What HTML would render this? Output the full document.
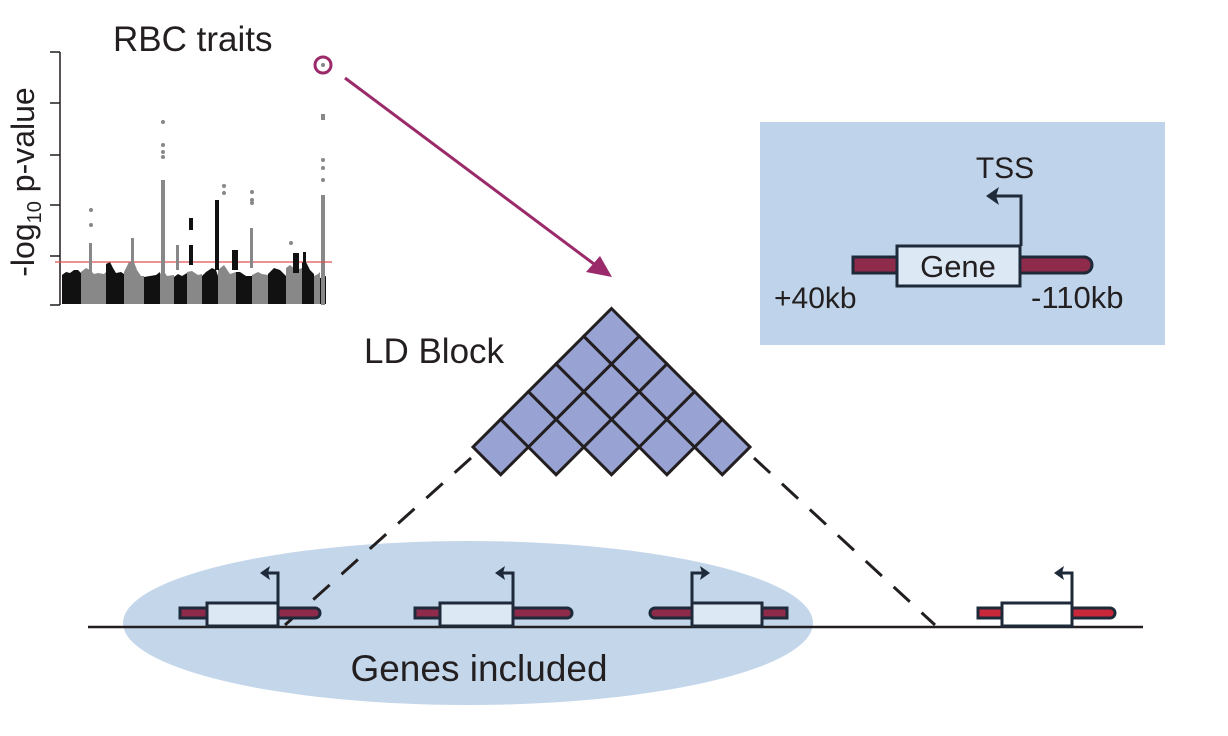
<!DOCTYPE html>
<html><head><meta charset="utf-8"><style>
html,body{margin:0;padding:0;background:#fff;}
svg{display:block;}
text{font-family:"Liberation Sans",sans-serif;fill:#231f20;}
</style></head><body>
<svg width="1228" height="736" viewBox="0 0 1228 736" xmlns="http://www.w3.org/2000/svg">
<!-- Manhattan plot -->
<text x="113" y="51" font-size="35">RBC traits</text>
<text transform="translate(34,182) rotate(-90)" font-size="32" text-anchor="middle">-log<tspan font-size="20" dy="7">10</tspan><tspan dy="-7"> p-value</tspan></text>
<g stroke="#231f20" stroke-width="1.5" fill="none">
<path d="M60,52 V305"/>
<path d="M50,52 H60 M50,103 H60 M50,155 H60 M50,205 H60 M50,256 H60 M50,305 H60"/>
</g>
<g>
<path fill="#111" d="M62,304 V275 L66,272 L70,273 L74,270 L78,270 L81,273 V304Z"/>
<path fill="#888" d="M81,304 V272 L86,268 L90,270 L94,274 L98,273 L104,274 L106,272 V304Z"/>
<path fill="#111" d="M106,304 V264 L110,262 L113,268 L116,273 L121,272 L124,274 V304Z"/>
<path fill="#888" d="M124,304 V272 L129,262 L134,262 L137,270 L141,276 L144,276 V304Z"/>
<path fill="#111" d="M144,304 V277 L150,276 L156,275 L160,272 V304Z"/>
<path fill="#888" d="M160,304 V274 L163,270 L167,276 L174,275 V304Z"/>
<path fill="#111" d="M174,304 V277 L178,274 L182,276 L187,273 V304Z"/>
<path fill="#888" d="M187,304 V272 L192,271 L198,275 L202,274 V304Z"/>
<path fill="#111" d="M202,304 V276 L206,272 L212,268 L216,270 L218,276 V304Z"/>
<path fill="#888" d="M218,304 V270 L224,265 L230,274 L236,272 V304Z"/>
<path fill="#111" d="M236,304 V272 L240,272 L246,276 L252,276 V304Z"/>
<path fill="#888" d="M252,304 V275 L258,272 L262,274 L268,275 V304Z"/>
<path fill="#111" d="M268,304 V274 L274,268 L280,270 L286,276 V304Z"/>
<path fill="#888" d="M286,304 V268 L290,265 L296,270 L302,268 V304Z"/>
<path fill="#111" d="M302,304 V262 L306,262 L310,270 L314,274 V304Z"/>
<path fill="#888" d="M314,304 V276 L318,274 L320,272 V304Z"/>
<path fill="#111" d="M320,304 V278 L326,276 V304Z"/>
<rect x="321" y="195" width="4" height="110" fill="#888"/>
</g>
<line x1="55" y1="262" x2="332" y2="262" stroke="#e05050" stroke-width="1.2"/>
<g fill="#888">
<rect x="161" y="180" width="4" height="95"/><circle cx="163" cy="122" r="2"/><circle cx="163" cy="145" r="2"/><circle cx="163" cy="152" r="2"/><circle cx="163" cy="157" r="2"/>
<rect x="89" y="243" width="3" height="30"/><circle cx="91" cy="210" r="2"/><circle cx="91" cy="225" r="2"/>
<rect x="131" y="238" width="3" height="30"/>
<circle cx="224" cy="186" r="2"/><circle cx="224" cy="193" r="2"/>
<rect x="250" y="228" width="3" height="40"/><circle cx="252" cy="192" r="2"/><circle cx="252" cy="200" r="2"/><circle cx="252" cy="203" r="2"/>
<circle cx="291" cy="243" r="2"/>
<circle cx="323" cy="65" r="2"/><rect x="321" y="114" width="4" height="6"/><circle cx="323" cy="160" r="2"/><circle cx="323" cy="168" r="2"/><circle cx="323" cy="180" r="2"/>
<rect x="176" y="245" width="3" height="25"/>
</g>
<g fill="#111">
<rect x="189" y="218" width="4" height="12"/><rect x="189" y="245" width="4" height="20"/>
<rect x="215" y="200" width="4" height="70"/>
<rect x="293" y="253" width="6" height="20"/><rect x="303" y="252" width="3" height="20"/>
<rect x="232" y="250" width="6" height="20"/>
</g>
<!-- magenta -->
<circle cx="323" cy="65" r="8" fill="none" stroke="#9b2a6a" stroke-width="3"/>
<line x1="345" y1="78" x2="598" y2="267" stroke="#9b2a6a" stroke-width="3"/>
<polygon points="612,277 586,272 600,256" fill="#9b2a6a"/>
<!-- ellipse -->
<ellipse cx="468" cy="623" rx="345" ry="82" fill="#c3d6ea"/>
<!-- inset -->
<rect x="760" y="122" width="405" height="223" fill="#bfd4ea"/>
<text x="1005" y="178" font-size="30" text-anchor="middle" fill="#2a3545">TSS</text>
<rect x="853" y="257" width="44" height="16" fill="#8e2a4a" stroke="#1e2a3a" stroke-width="3"/>
<path d="M1020,257 H1084 A8,8 0 0 1 1084,273 H1020Z" fill="#8e2a4a" stroke="#1e2a3a" stroke-width="3"/>
<rect x="897" y="246" width="123" height="40" fill="#dce8f4" stroke="#1e2a3a" stroke-width="3"/>
<text x="958" y="277" font-size="31" text-anchor="middle" fill="#2a3545">Gene</text>
<path d="M1021,246 V196 H993" fill="none" stroke="#1e2a3a" stroke-width="3"/>
<polygon points="986,196 999,187 996,196 999,205" fill="#1e2a3a"/>
<text x="774" y="308" font-size="30" fill="#2a3545">+40kb</text>
<text x="1031" y="308" font-size="31" fill="#2a3545">-110kb</text>
<!-- LD block -->
<text x="364" y="363" font-size="35" fill="#2a3545">LD Block</text>
<g fill="#98a3d4" stroke="#231f20" stroke-width="3">
<path id="d" d="M0,-27.7 L27.7,0 L0,27.7 L-27.7,0Z" transform="translate(500.7,447)"/>
<use href="#d" x="55.4"/><use href="#d" x="110.8"/><use href="#d" x="166.2"/><use href="#d" x="221.6"/>
<use href="#d" x="27.7" y="-27.7"/><use href="#d" x="83.1" y="-27.7"/><use href="#d" x="138.5" y="-27.7"/><use href="#d" x="193.9" y="-27.7"/>
<use href="#d" x="55.4" y="-55.4"/><use href="#d" x="110.8" y="-55.4"/><use href="#d" x="166.2" y="-55.4"/>
<use href="#d" x="83.1" y="-83.1"/><use href="#d" x="138.5" y="-83.1"/>
<use href="#d" x="110.8" y="-110.8"/>
</g>
<g stroke="#231f20" stroke-width="3" stroke-dasharray="22,16" fill="none">
<line x1="471" y1="458" x2="285" y2="625"/>
<line x1="754" y1="458" x2="935" y2="625"/>
</g>
<!-- baseline -->
<line x1="88" y1="627" x2="1143" y2="627" stroke="#231f20" stroke-width="2.5"/>
<!-- genes -->
<g stroke="#1e2a3a" stroke-width="3">
<rect x="180" y="608" width="27" height="10" fill="#8e2a4a"/>
<path d="M278,608 H315 A5,5 0 0 1 315,618 H278Z" fill="#8e2a4a"/>
<rect x="207" y="603" width="71" height="23" fill="#dce8f4"/>
<path d="M278,603 V573 H266" fill="none"/>
<rect x="415" y="608" width="25" height="10" fill="#8e2a4a"/>
<path d="M513,608 H567 A5,5 0 0 1 567,618 H513Z" fill="#8e2a4a"/>
<rect x="440" y="603" width="73" height="23" fill="#dce8f4"/>
<path d="M513,603 V573 H501" fill="none"/>
<path d="M692,608 H655 A5,5 0 0 0 655,618 H692Z" fill="#8e2a4a"/>
<rect x="762" y="608" width="25" height="10" fill="#8e2a4a"/>
<rect x="692" y="603" width="70" height="23" fill="#dce8f4"/>
<path d="M692,603 V573 H704" fill="none"/>
<rect x="978" y="608" width="24" height="10" fill="#c8283a"/>
<path d="M1072,608 H1110 A5,5 0 0 1 1110,618 H1072Z" fill="#c8283a"/>
<rect x="1002" y="603" width="70" height="23" fill="#fff"/>
<path d="M1072,603 V573 H1060" fill="none"/>
</g>
<g fill="#1e2a3a">
<polygon points="260,573 270,566 268,573 270,580"/>
<polygon points="495,573 505,566 503,573 505,580"/>
<polygon points="710,573 700,566 702,573 700,580"/>
<polygon points="1054,573 1064,566 1062,573 1064,580"/>
</g>
<text x="479" y="681" font-size="37" text-anchor="middle">Genes included</text>
</svg>
</body></html>
